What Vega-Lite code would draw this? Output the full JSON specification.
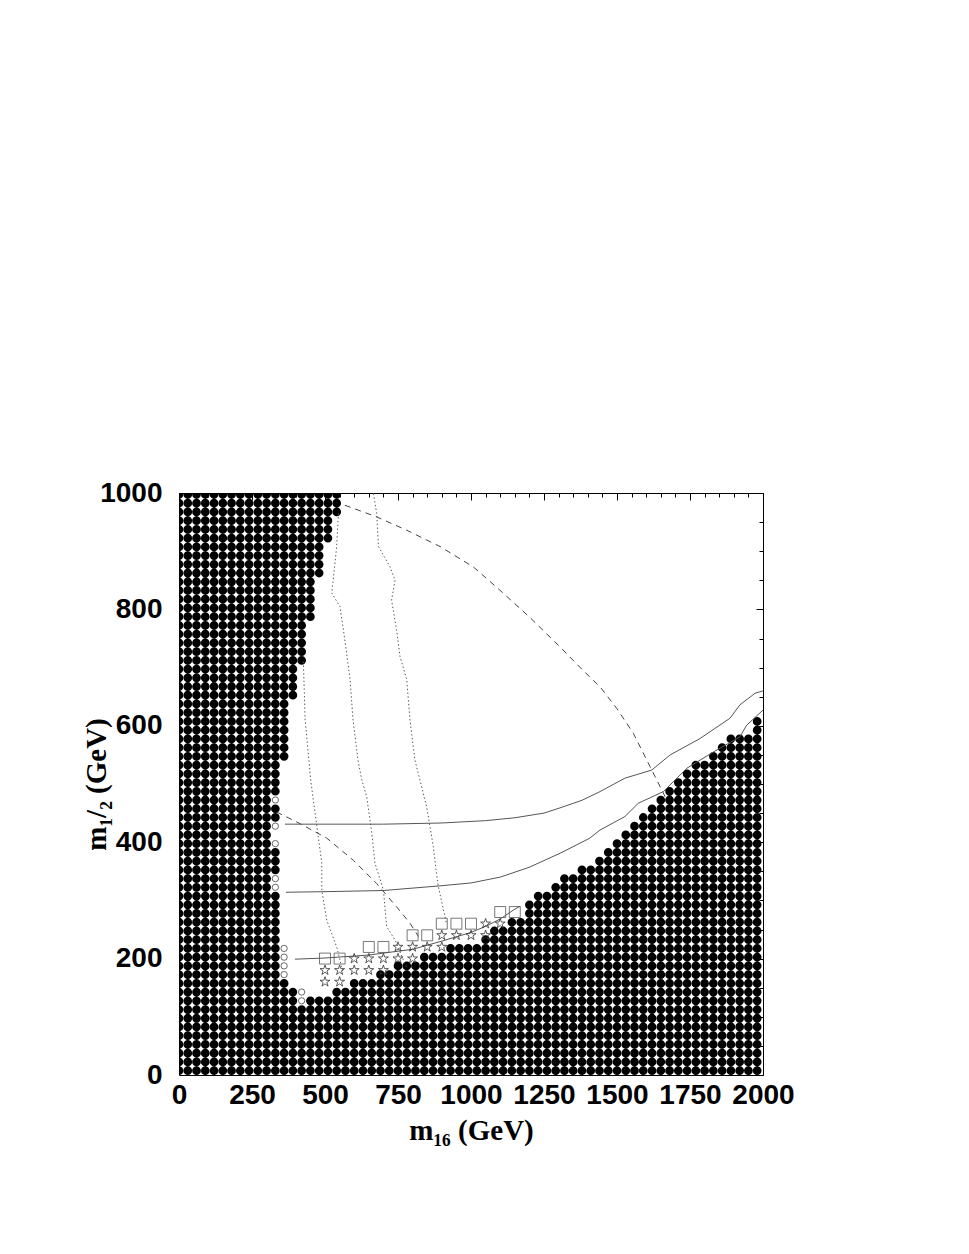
{
  "$schema": "https://vega.github.io/schema/vega-lite/v6.json",
  "width": 584,
  "height": 582,
  "autosize": {"type": "none"},
  "padding": {"left": 179, "top": 493, "right": 206, "bottom": 179},
  "background": "white",
  "config": {"view": {"stroke": "black", "strokeWidth": 1}},
  "datasets": {
    "black": [
      {"x": 0, "lo": 7.5, "hi": 997.5}, {"x": 30, "lo": 7.5, "hi": 997.5}, {"x": 60, "lo": 7.5, "hi": 997.5},
      {"x": 90, "lo": 7.5, "hi": 997.5}, {"x": 120, "lo": 7.5, "hi": 997.5}, {"x": 150, "lo": 7.5, "hi": 997.5},
      {"x": 180, "lo": 7.5, "hi": 997.5}, {"x": 210, "lo": 7.5, "hi": 997.5}, {"x": 240, "lo": 7.5, "hi": 997.5},
      {"x": 270, "lo": 7.5, "hi": 997.5}, {"x": 300, "lo": 7.5, "hi": 997.5},
      {"x": 330, "lo": 7.5, "hi": 307.5}, {"x": 330, "lo": 352.5, "hi": 382.5}, {"x": 330, "lo": 442.5, "hi": 457.5}, {"x": 330, "lo": 487.5, "hi": 997.5},
      {"x": 360, "lo": 7.5, "hi": 157.5}, {"x": 360, "lo": 547.5, "hi": 997.5},
      {"x": 390, "lo": 7.5, "hi": 142.5}, {"x": 390, "lo": 652.5, "hi": 997.5},
      {"x": 420, "lo": 7.5, "hi": 112.5}, {"x": 420, "lo": 712.5, "hi": 997.5},
      {"x": 450, "lo": 7.5, "hi": 127.5}, {"x": 450, "lo": 787.5, "hi": 997.5},
      {"x": 480, "lo": 7.5, "hi": 127.5}, {"x": 480, "lo": 862.5, "hi": 997.5},
      {"x": 510, "lo": 7.5, "hi": 127.5}, {"x": 510, "lo": 922.5, "hi": 997.5},
      {"x": 540, "lo": 7.5, "hi": 142.5}, {"x": 540, "lo": 967.5, "hi": 997.5},
      {"x": 570, "lo": 7.5, "hi": 142.5},
      {"x": 600, "lo": 7.5, "hi": 157.5}, {"x": 630, "lo": 7.5, "hi": 157.5}, {"x": 660, "lo": 7.5, "hi": 157.5},
      {"x": 690, "lo": 7.5, "hi": 172.5}, {"x": 720, "lo": 7.5, "hi": 172.5},
      {"x": 750, "lo": 7.5, "hi": 187.5}, {"x": 780, "lo": 7.5, "hi": 187.5}, {"x": 810, "lo": 7.5, "hi": 187.5},
      {"x": 840, "lo": 7.5, "hi": 202.5}, {"x": 870, "lo": 7.5, "hi": 202.5}, {"x": 900, "lo": 7.5, "hi": 202.5},
      {"x": 930, "lo": 7.5, "hi": 217.5}, {"x": 960, "lo": 7.5, "hi": 217.5}, {"x": 990, "lo": 7.5, "hi": 217.5},
      {"x": 1020, "lo": 7.5, "hi": 217.5}, {"x": 1050, "lo": 7.5, "hi": 232.5},
      {"x": 1080, "lo": 7.5, "hi": 247.5}, {"x": 1110, "lo": 7.5, "hi": 247.5},
      {"x": 1140, "lo": 7.5, "hi": 262.5}, {"x": 1170, "lo": 7.5, "hi": 262.5},
      {"x": 1200, "lo": 7.5, "hi": 292.5}, {"x": 1230, "lo": 7.5, "hi": 307.5}, {"x": 1260, "lo": 7.5, "hi": 307.5},
      {"x": 1290, "lo": 7.5, "hi": 322.5}, {"x": 1320, "lo": 7.5, "hi": 337.5}, {"x": 1350, "lo": 7.5, "hi": 337.5},
      {"x": 1380, "lo": 7.5, "hi": 352.5}, {"x": 1410, "lo": 7.5, "hi": 352.5}, {"x": 1440, "lo": 7.5, "hi": 367.5},
      {"x": 1470, "lo": 7.5, "hi": 382.5}, {"x": 1500, "lo": 7.5, "hi": 397.5}, {"x": 1530, "lo": 7.5, "hi": 412.5},
      {"x": 1560, "lo": 7.5, "hi": 427.5}, {"x": 1590, "lo": 7.5, "hi": 442.5}, {"x": 1620, "lo": 7.5, "hi": 457.5},
      {"x": 1650, "lo": 7.5, "hi": 472.5}, {"x": 1680, "lo": 7.5, "hi": 487.5}, {"x": 1710, "lo": 7.5, "hi": 502.5},
      {"x": 1740, "lo": 7.5, "hi": 517.5}, {"x": 1770, "lo": 7.5, "hi": 532.5}, {"x": 1800, "lo": 7.5, "hi": 532.5},
      {"x": 1830, "lo": 7.5, "hi": 547.5}, {"x": 1860, "lo": 7.5, "hi": 562.5}, {"x": 1890, "lo": 7.5, "hi": 577.5},
      {"x": 1920, "lo": 7.5, "hi": 577.5}, {"x": 1950, "lo": 7.5, "hi": 577.5}, {"x": 1980, "lo": 7.5, "hi": 607.5}
    ],
    "circ": [
      {"x": 330, "y": 322.5}, {"x": 330, "y": 337.5}, {"x": 330, "y": 397.5}, {"x": 330, "y": 427.5}, {"x": 330, "y": 472.5},
      {"x": 360, "y": 172.5}, {"x": 360, "y": 187.5}, {"x": 360, "y": 202.5}, {"x": 360, "y": 217.5},
      {"x": 420, "y": 127.5}, {"x": 420, "y": 142.5}
    ],
    "star": [
      {"x": 500, "y": 160}, {"x": 550, "y": 160},
      {"x": 500, "y": 180}, {"x": 550, "y": 180}, {"x": 600, "y": 180}, {"x": 650, "y": 180}, {"x": 700, "y": 180},
      {"x": 600, "y": 200}, {"x": 650, "y": 200}, {"x": 700, "y": 200}, {"x": 750, "y": 200}, {"x": 800, "y": 200},
      {"x": 750, "y": 220}, {"x": 800, "y": 220}, {"x": 850, "y": 220}, {"x": 900, "y": 220},
      {"x": 900, "y": 240}, {"x": 950, "y": 240}, {"x": 1000, "y": 240}, {"x": 1050, "y": 240},
      {"x": 1050, "y": 260}, {"x": 1100, "y": 260}
    ],
    "sq": [
      {"x": 500, "y": 200}, {"x": 550, "y": 200},
      {"x": 650, "y": 220}, {"x": 700, "y": 220},
      {"x": 800, "y": 240}, {"x": 850, "y": 240},
      {"x": 900, "y": 260}, {"x": 950, "y": 260}, {"x": 1000, "y": 260},
      {"x": 1100, "y": 280}, {"x": 1150, "y": 280}
    ],
    "solid": [
      {"c": "s1", "x": 363, "y": 431}, {"c": "s1", "x": 500, "y": 431}, {"c": "s1", "x": 700, "y": 431},
      {"c": "s1", "x": 900, "y": 433}, {"c": "s1", "x": 1050, "y": 437}, {"c": "s1", "x": 1150, "y": 442},
      {"c": "s1", "x": 1250, "y": 450}, {"c": "s1", "x": 1305, "y": 459}, {"c": "s1", "x": 1380, "y": 472},
      {"c": "s1", "x": 1442, "y": 487}, {"c": "s1", "x": 1527, "y": 510}, {"c": "s1", "x": 1619, "y": 524},
      {"c": "s1", "x": 1682, "y": 550}, {"c": "s1", "x": 1784, "y": 578}, {"c": "s1", "x": 1887, "y": 613},
      {"c": "s1", "x": 1921, "y": 636}, {"c": "s1", "x": 1973, "y": 656}, {"c": "s1", "x": 2000, "y": 660},
      {"c": "s2", "x": 366, "y": 314}, {"c": "s2", "x": 500, "y": 315}, {"c": "s2", "x": 700, "y": 317},
      {"c": "s2", "x": 894, "y": 325}, {"c": "s2", "x": 1000, "y": 330}, {"c": "s2", "x": 1100, "y": 340},
      {"c": "s2", "x": 1200, "y": 357}, {"c": "s2", "x": 1305, "y": 381}, {"c": "s2", "x": 1407, "y": 407},
      {"c": "s2", "x": 1442, "y": 421}, {"c": "s2", "x": 1527, "y": 444}, {"c": "s2", "x": 1573, "y": 467},
      {"c": "s2", "x": 1659, "y": 487}, {"c": "s2", "x": 1739, "y": 527}, {"c": "s2", "x": 1830, "y": 555},
      {"c": "s2", "x": 1921, "y": 581}, {"c": "s2", "x": 1944, "y": 601}, {"c": "s2", "x": 2000, "y": 627},
      {"c": "s3", "x": 397, "y": 199}, {"c": "s3", "x": 500, "y": 201}, {"c": "s3", "x": 648, "y": 206},
      {"c": "s3", "x": 800, "y": 216}, {"c": "s3", "x": 900, "y": 230}, {"c": "s3", "x": 1000, "y": 245},
      {"c": "s3", "x": 1048, "y": 255}, {"c": "s3", "x": 1100, "y": 268}, {"c": "s3", "x": 1144, "y": 283},
      {"c": "s3", "x": 1168, "y": 290}
    ],
    "dotted": [
      {"c": "a", "x": 546, "y": 965}, {"c": "a", "x": 540, "y": 908}, {"c": "a", "x": 528, "y": 850},
      {"c": "a", "x": 523, "y": 828}, {"c": "a", "x": 551, "y": 805}, {"c": "a", "x": 563, "y": 765},
      {"c": "a", "x": 574, "y": 725}, {"c": "a", "x": 586, "y": 679}, {"c": "a", "x": 596, "y": 610},
      {"c": "a", "x": 613, "y": 541}, {"c": "a", "x": 626, "y": 507}, {"c": "a", "x": 643, "y": 478},
      {"c": "a", "x": 660, "y": 416}, {"c": "a", "x": 671, "y": 364}, {"c": "a", "x": 700, "y": 318},
      {"c": "a", "x": 711, "y": 255}, {"c": "a", "x": 740, "y": 232}, {"c": "a", "x": 768, "y": 198},
      {"c": "a", "x": 780, "y": 185},
      {"c": "b", "x": 666, "y": 999}, {"c": "b", "x": 677, "y": 965}, {"c": "b", "x": 683, "y": 908},
      {"c": "b", "x": 723, "y": 873}, {"c": "b", "x": 740, "y": 850}, {"c": "b", "x": 728, "y": 816},
      {"c": "b", "x": 745, "y": 765}, {"c": "b", "x": 757, "y": 719}, {"c": "b", "x": 780, "y": 679},
      {"c": "b", "x": 791, "y": 610}, {"c": "b", "x": 808, "y": 541}, {"c": "b", "x": 825, "y": 507},
      {"c": "b", "x": 848, "y": 461}, {"c": "b", "x": 871, "y": 392}, {"c": "b", "x": 882, "y": 346},
      {"c": "b", "x": 888, "y": 324}, {"c": "b", "x": 911, "y": 272}, {"c": "b", "x": 915, "y": 262},
      {"c": "c", "x": 426, "y": 710}, {"c": "c", "x": 432, "y": 610}, {"c": "c", "x": 445, "y": 541},
      {"c": "c", "x": 451, "y": 507}, {"c": "c", "x": 466, "y": 450}, {"c": "c", "x": 489, "y": 364},
      {"c": "c", "x": 489, "y": 318}, {"c": "c", "x": 506, "y": 266}, {"c": "c", "x": 540, "y": 220},
      {"c": "c", "x": 557, "y": 186}, {"c": "c", "x": 563, "y": 175}
    ],
    "dashed": [
      {"c": "d1", "x": 568, "y": 979}, {"c": "d1", "x": 677, "y": 959}, {"c": "d1", "x": 780, "y": 936},
      {"c": "d1", "x": 894, "y": 908}, {"c": "d1", "x": 1008, "y": 873}, {"c": "d1", "x": 1099, "y": 833},
      {"c": "d1", "x": 1200, "y": 787}, {"c": "d1", "x": 1300, "y": 738}, {"c": "d1", "x": 1380, "y": 697},
      {"c": "d1", "x": 1442, "y": 667}, {"c": "d1", "x": 1499, "y": 630}, {"c": "d1", "x": 1556, "y": 587},
      {"c": "d1", "x": 1613, "y": 530}, {"c": "d1", "x": 1665, "y": 478},
      {"c": "d2", "x": 334, "y": 452}, {"c": "d2", "x": 414, "y": 432}, {"c": "d2", "x": 506, "y": 407},
      {"c": "d2", "x": 597, "y": 369}, {"c": "d2", "x": 677, "y": 329}, {"c": "d2", "x": 745, "y": 289},
      {"c": "d2", "x": 791, "y": 261}, {"c": "d2", "x": 820, "y": 238}
    ]
  },
  "resolve": {"axis": {"x": "independent", "y": "independent"}},
  "layer": [
    {
      "data": {"name": "black"},
      "mark": {"type": "rule", "clip": true, "color": "black", "strokeWidth": 8.7, "strokeCap": "round", "strokeDash": [0.1, 8.63], "strokeDashOffset": 0.05},
      "encoding": {
        "x": {"field": "x", "type": "quantitative", "scale": {"domain": [0, 2000], "nice": false, "zero": false},
          "axis": {"orient": "bottom", "values": [0, 250, 500, 750, 1000, 1250, 1500, 1750, 2000], "format": "d",
            "ticks": false, "domain": false, "grid": false, "labelFont": "Liberation Sans", "labelFontWeight": "bold",
            "labelFontSize": 28, "labelPadding": 6, "labelColor": "black", "labelFlush": false, "labelOverlap": false,
            "title": "m₁₆ (GeV)", "titleFont": "Liberation Serif", "titleFontWeight": "bold", "titleFontSize": 29,
            "titleColor": "black", "titleY": 64, "titleBaseline": "alphabetic"}},
        "y": {"field": "lo", "type": "quantitative", "scale": {"domain": [0, 1000], "nice": false, "zero": false},
          "axis": {"orient": "left", "values": [0, 200, 400, 600, 800, 1000], "format": "d",
            "ticks": false, "domain": false, "grid": false, "labelFont": "Liberation Sans", "labelFontWeight": "bold",
            "labelFontSize": 28, "labelPadding": 17, "labelColor": "black", "labelFlush": false, "labelOverlap": false,
            "title": "m₁/₂ (GeV)", "titleFont": "Liberation Serif", "titleFontWeight": "bold", "titleFontSize": 29,
            "titleColor": "black", "titleX": -74, "titleY": 291, "titleAngle": -90, "titleAlign": "center", "titleBaseline": "alphabetic"}},
        "y2": {"field": "hi"}
      }
    },
    {
      "data": {"name": "solid"},
      "mark": {"type": "line", "color": "#555555", "strokeWidth": 1},
      "encoding": {
        "x": {"field": "x", "type": "quantitative",
          "axis": {"orient": "top", "values": [0,50,100,150,200,250,300,350,400,450,500,550,600,650,700,750,800,850,900,950,1000,1050,1100,1150,1200,1250,1300,1350,1400,1450,1500,1550,1600,1650,1700,1750,1800,1850,1900,1950,2000],
            "labels": false, "domain": false, "grid": false, "title": null, "ticks": true, "tickColor": "black", "tickWidth": 1,
            "tickSize": {"condition": {"test": "datum.value % 250 === 0", "value": -7}, "value": -4}}},
        "y": {"field": "y", "type": "quantitative",
          "axis": {"orient": "right", "values": [0,50,100,150,200,250,300,350,400,450,500,550,600,650,700,750,800,850,900,950,1000],
            "labels": false, "domain": false, "grid": false, "title": null, "ticks": true, "tickColor": "black", "tickWidth": 1,
            "tickSize": {"condition": {"test": "datum.value % 200 === 0", "value": -7}, "value": -4}}},
        "detail": {"field": "c", "type": "nominal"},
        "order": {"value": null}
      }
    },
    {
      "data": {"name": "dotted"},
      "mark": {"type": "line", "color": "#555555", "strokeWidth": 1, "strokeDash": [1.4, 2.4]},
      "encoding": {
        "x": {"field": "x", "type": "quantitative", "axis": null},
        "y": {"field": "y", "type": "quantitative", "axis": null},
        "detail": {"field": "c", "type": "nominal"},
        "order": {"value": null}
      }
    },
    {
      "data": {"name": "dashed"},
      "mark": {"type": "line", "color": "#444444", "strokeWidth": 1, "strokeDash": [6, 5]},
      "encoding": {
        "x": {"field": "x", "type": "quantitative", "axis": null},
        "y": {"field": "y", "type": "quantitative", "axis": null},
        "detail": {"field": "c", "type": "nominal"},
        "order": {"value": null}
      }
    },
    {
      "data": {"name": "circ"},
      "mark": {"type": "point", "shape": "circle", "filled": false, "size": 40, "color": "#444444", "strokeWidth": 0.8, "opacity": 1},
      "encoding": {
        "x": {"field": "x", "type": "quantitative", "axis": null},
        "y": {"field": "y", "type": "quantitative", "axis": null}
      }
    },
    {
      "data": {"name": "star"},
      "mark": {"type": "point", "shape": "M0,-1L0.2245,-0.309L0.951,-0.309L0.363,0.118L0.588,0.809L0,0.382L-0.588,0.809L-0.363,0.118L-0.951,-0.309L-0.2245,-0.309Z", "filled": false, "size": 110, "color": "#333333", "strokeWidth": 0.8, "opacity": 1},
      "encoding": {
        "x": {"field": "x", "type": "quantitative", "axis": null},
        "y": {"field": "y", "type": "quantitative", "axis": null}
      }
    },
    {
      "data": {"name": "sq"},
      "mark": {"type": "point", "shape": "square", "filled": false, "size": 120, "color": "#555555", "strokeWidth": 0.8, "opacity": 1},
      "encoding": {
        "x": {"field": "x", "type": "quantitative", "axis": null},
        "y": {"field": "y", "type": "quantitative", "axis": null}
      }
    }
  ]
}
